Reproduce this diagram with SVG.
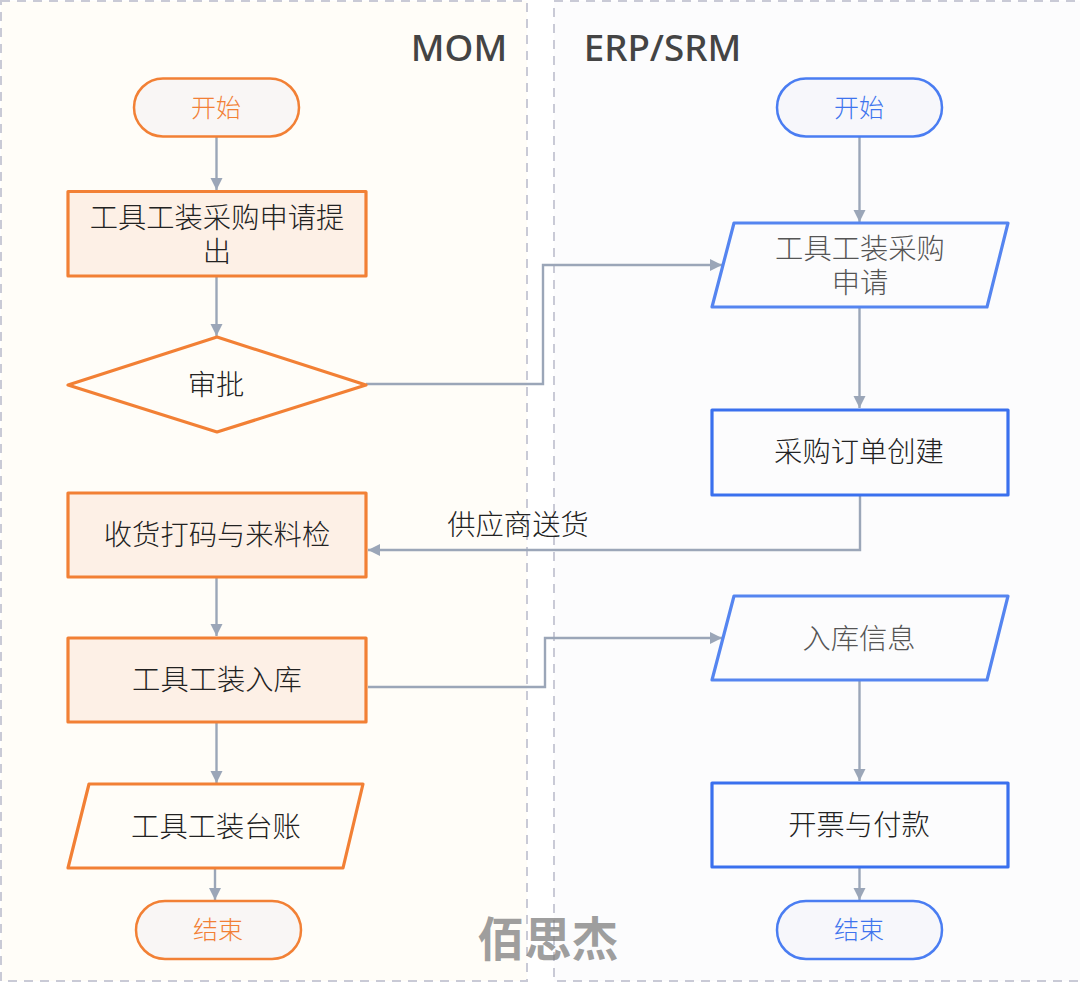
<svg xmlns="http://www.w3.org/2000/svg" width="1080" height="982" viewBox="0 0 1080 982">
<defs>
<style>
text{font-family:"Noto Sans CJK SC","Noto Sans",sans-serif;text-anchor:middle;font-size:28.300px;font-weight:300;fill:#222}
text.g{fill:#555}
.lane{stroke:#c9cad6;stroke-width:2;stroke-dasharray:9 7}
.or{fill:#fdf0e6;stroke:#f28035;stroke-width:3.200;stroke-linejoin:round}
.orp{fill:#fffdf8;stroke:#f28035;stroke-width:3.200;stroke-linejoin:round}
.ot{fill:#f9f6f5;stroke:#f28035;stroke-width:2.500}
.bl{fill:#fcfcfd;stroke:#3a70ee;stroke-width:3.200;stroke-linejoin:round}
.blp{fill:#fcfcfd;stroke:#5585f0;stroke-width:3.200;stroke-linejoin:round}
.bt{fill:#f7f7fb;stroke:#4a7df2;stroke-width:2.500}
.c{fill:none;stroke:#9ba6b8;stroke-width:2.400}
text.tit{font-family:"Noto Sans",sans-serif;font-size:36.800px;font-weight:500;fill:#444}
text.to{fill:#f28035;font-size:25px;font-weight:300}
text.tb{fill:#3f74ee;font-size:25px;font-weight:300}
</style>
<marker id="a" markerUnits="userSpaceOnUse" markerWidth="13" markerHeight="13" refX="12" refY="6.500" orient="auto"><path d="M0,0.500L12,6.500L0,12.500Z" fill="#9ba6b8"/></marker>
</defs>
<rect width="1080" height="982" fill="#fff"/>
<g id="lanes">
<rect class="lane" x="1" y="1" width="526" height="980" fill="#fffdf8"/>
<rect class="lane" x="554" y="1" width="540" height="980" fill="#fcfcfd"/>
<text class="tit" x="459" y="61">MOM</text>
<text class="tit" x="662.500" y="61">ERP/SRM</text>
</g>
<g id="connectors">
<path class="c" marker-end="url(#a)" d="M216.500 137V190"/>
<path class="c" marker-end="url(#a)" d="M216.500 277V336"/>
<path class="c" marker-end="url(#a)" d="M366 384H543V265H722"/>
<path class="c" marker-end="url(#a)" d="M859.500 137V222"/>
<path class="c" marker-end="url(#a)" d="M859.500 308V408"/>
<path class="c" marker-end="url(#a)" d="M860 495V550H368"/>
<path class="c" marker-end="url(#a)" d="M216.500 578V636"/>
<path class="c" marker-end="url(#a)" d="M368 687H545V638H722"/>
<path class="c" marker-end="url(#a)" d="M216.500 723V783"/>
<path class="c" marker-end="url(#a)" d="M859.500 681V781"/>
<path class="c" marker-end="url(#a)" d="M215 869V900"/>
<path class="c" marker-end="url(#a)" d="M859.500 868V900"/>
</g>
<text x="518" y="535">供应商送货</text>
<g id="mom-start"><rect class="ot" x="134" y="78.500" width="165" height="58" rx="29"/><text class="to" x="216" y="117">开始</text></g>
<g id="mom-apply"><rect class="or" x="68" y="191.500" width="298" height="84.500"/><text x="217" y="228">工具工装采购申请提<tspan x="217" dy="34">出</tspan></text></g>
<g id="mom-approve"><polygon class="orp" points="217,337 366,385 217,432 68,385"/><text x="216" y="395">审批</text></g>
<g id="mom-receive"><rect class="or" x="68" y="493" width="298" height="84"/><text x="217" y="545">收货打码与来料检</text></g>
<g id="mom-stock"><rect class="or" x="68" y="638" width="298" height="84"/><text x="217" y="690">工具工装入库</text></g>
<g id="mom-ledger"><polygon class="orp" points="89,784 363,784 343,868 68,868"/><text x="216" y="837">工具工装台账</text></g>
<g id="mom-end"><rect class="ot" x="136" y="901" width="165" height="58" rx="29"/><text class="to" x="218" y="939">结束</text></g>
<g id="erp-start"><rect class="bt" x="777" y="78.500" width="165" height="58" rx="29"/><text class="tb" x="859" y="117">开始</text></g>
<g id="erp-request"><polygon class="blp" points="734,223 1008,223 987,307 712,307"/><text class="g" x="860" y="259">工具工装采购<tspan x="860" dy="34">申请</tspan></text></g>
<g id="erp-order"><rect class="bl" x="712" y="410" width="296" height="85"/><text x="859" y="462">采购订单创建</text></g>
<g id="erp-info"><polygon class="blp" points="734,596 1008,596 987,680 712,680"/><text class="g" x="859" y="649">入库信息</text></g>
<g id="erp-pay"><rect class="bl" x="712" y="783" width="296" height="84"/><text x="859" y="835">开票与付款</text></g>
<g id="erp-end"><rect class="bt" x="777" y="901" width="165" height="58" rx="29"/><text class="tb" x="859" y="939">结束</text></g>
<text x="548" y="956" style="font-size:47px;font-weight:700;fill:#7f7f7f;fill-opacity:.75">佰思杰</text>
</svg>
